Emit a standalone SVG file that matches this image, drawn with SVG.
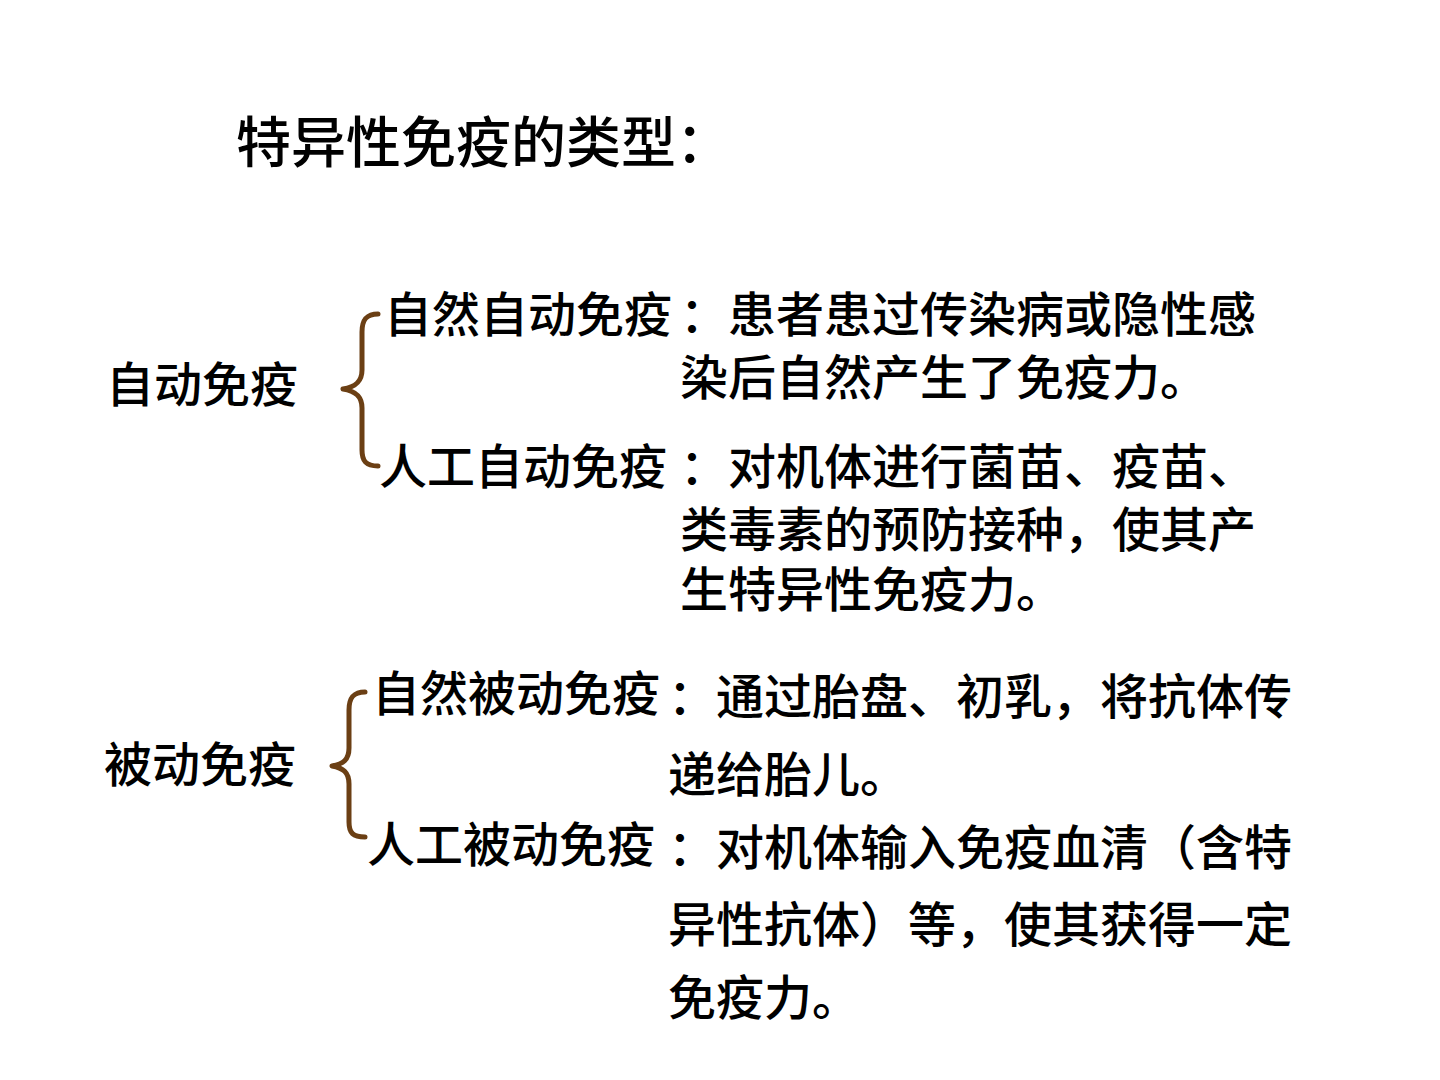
<svg xmlns="http://www.w3.org/2000/svg" width="1440" height="1080" viewBox="0 0 1440 1080">
<style>
text { font-family: "Liberation Sans", "Noto Sans CJK SC", "Noto Sans CJK TC", sans-serif; fill: #000; font-weight: 500; }
.t { font-size: 55px; }
.l { font-size: 48px; }
.brace { fill: none; stroke: #6B3F14; stroke-width: 5; stroke-linecap: round; stroke-linejoin: round; }
</style>
<rect width="1440" height="1080" fill="#fff"/>
<g id="title"><text class="t" x="236" y="162">特异性免疫的类型：</text></g>
<g id="connectors">
<path class="brace" d="M378,314 C366,314 362,320 362,332 L362,370 C362,382 355,387 343,389 C355,391 362,396 362,408 L362,450 C362,461 366,466 378,466"/>
<path class="brace" d="M365,692 C353,692 349,698 349,710 L349,748 C349,760 343,764 332,766 C343,768 349,772 349,784 L349,822 C349,833 353,837 365,837"/>
</g>
<g id="active"><text class="l" x="106" y="402">自动免疫</text></g>
<g id="natural-active">
<text class="l" x="384" y="332">自然自动免疫</text>
<text class="l"><tspan x="680" y="332">：患者患过传染病或隐性感</tspan><tspan x="680" y="395">染后自然产生了免疫力。</tspan></text>
</g>
<g id="artificial-active">
<text class="l" x="379" y="484">人工自动免疫</text>
<text class="l"><tspan x="680" y="484">：对机体进行菌苗、疫苗、</tspan><tspan x="680" y="547">类毒素的预防接种，使其产</tspan><tspan x="680" y="607">生特异性免疫力。</tspan></text>
</g>
<g id="passive"><text class="l" x="104" y="782">被动免疫</text></g>
<g id="natural-passive">
<text class="l" x="372" y="711">自然被动免疫</text>
<text class="l"><tspan x="668" y="714">：通过胎盘、初乳，将抗体传</tspan><tspan x="668" y="792">递给胎儿。</tspan></text>
</g>
<g id="artificial-passive">
<text class="l" x="367" y="862">人工被动免疫</text>
<text class="l"><tspan x="668" y="865">：对机体输入免疫血清（含特</tspan><tspan x="668" y="942">异性抗体）等，使其获得一定</tspan><tspan x="668" y="1015">免疫力。</tspan></text>
</g>
</svg>
